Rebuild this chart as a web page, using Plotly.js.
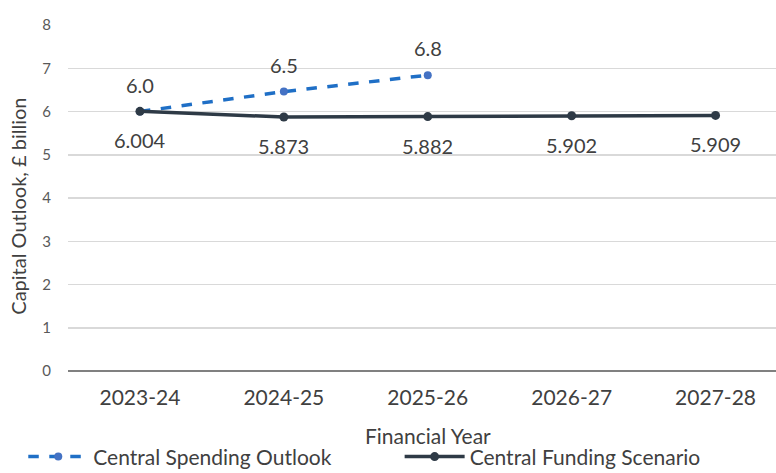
<!DOCTYPE html>
<html><head><meta charset="utf-8">
<script src="https://cdn.plot.ly/plotly-3.0.1.min.js"></script>
<style>html,body{margin:0;padding:0;background:#fff}#c{width:776px;height:473px}</style>
</head><body><div id="c"></div>
<script>
const years = ["2023-24","2024-25","2025-26","2026-27","2027-28"];
const spendingYears = ["2023-24","2024-25","2025-26"];
const spendingValues = [6.0, 6.46, 6.84];
const spendingLabels = ["6.0","6.5","6.8"];
const fundingValues = [6.004, 5.873, 5.882, 5.902, 5.909];
const fundingLabels = ["6.004","5.873","5.882","5.902","5.909"];
const yTitle = "Capital Outlook, £ billion";
const xTitle = "Financial Year";

const font = "Lato, 'Open Sans', sans-serif";
const traces = [
  {x: spendingYears, y: spendingValues, name: "Central Spending Outlook", mode: "lines+markers", legend: "legend",
   line: {color: "#1F6FC6", width: 3.5, dash: "dash"}, marker: {color: "#4472C4", size: 8}},
  {x: years, y: fundingValues, name: "Central Funding Scenario", mode: "lines+markers", legend: "legend2",
   line: {color: "#2E3A46", width: 3.5}, marker: {color: "#2E3A46", size: 9}}
];
const annotations = [];
spendingYears.forEach((x,i)=>annotations.push({x:x,y:spendingValues[i],text:spendingLabels[i],showarrow:false,yshift:27,font:{family:font,size:20,color:"#404040"}}));
years.forEach((x,i)=>annotations.push({x:x,y:fundingValues[i],text:fundingLabels[i],showarrow:false,yshift:-29,font:{family:font,size:20,color:"#404040"}}));
annotations.push({xref:"paper", yref:"paper", x:-0.071, y:0.477, xanchor:"center", yanchor:"middle", textangle:-90,
  text:yTitle, showarrow:false, font:{family:font, size:20, color:"#404040"}});
annotations.push({xref:"paper", yref:"paper", x:0.508, y:-0.185, xanchor:"center", yanchor:"middle",
  text:xTitle, showarrow:false, font:{family:font, size:21, color:"#404040"}});

const legendBase = {orientation: "h", xref: "container", yref: "container", xanchor: "left", y: 0.034, yanchor: "middle",
                    font: {size: 21, color: "#404040"}, itemwidth: 60};
const layout = {
  width: 776, height: 473,
  margin: {l: 68, r: 0, t: 25, b: 102, autoexpand: false},
  paper_bgcolor: "#fff", plot_bgcolor: "#fff",
  font: {family: font, color: "#595959"},
  showlegend: true,
  legend: Object.assign({}, legendBase, {x: 0.03}),
  legend2: Object.assign({}, legendBase, {x: 0.515}),
  xaxis: {type: "category", range: [-0.5, 4.42], showgrid: false, zeroline: false, showline: false,
          ticks: "", tickfont: {size: 21, color: "#404040"}, ticklabelstandoff: 12},
  yaxis: {range: [0, 8], dtick: 1, showgrid: true, gridcolor: "#D9D9D9", gridwidth: 1.5,
          zeroline: true, zerolinecolor: "#808080", zerolinewidth: 2, ticks: "",
          tickfont: {size: 15, color: "#595959"}, ticklabelstandoff: 16},
  annotations: annotations
};
Plotly.newPlot("c", traces, layout, {displayModeBar: false, staticPlot: true});
</script></body></html>
